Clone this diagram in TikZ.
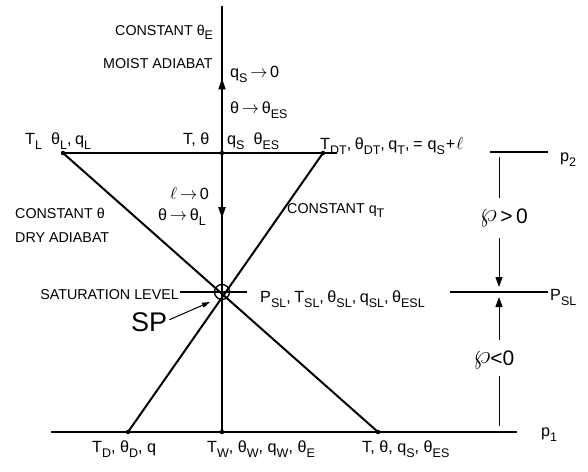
\documentclass[tikz,border=0pt]{standalone}
\usepackage{fontspec}
\setmainfont{Liberation Sans}
\usetikzlibrary{arrows.meta,decorations.markings}
\newcommand\lo[1]{\raisebox{-0.6ex}{\fontsize{12.5}{12}\selectfont #1}}
\newcommand\myarr{\,$\rightarrow$\,}
\newcommand\cm{,\hspace{3.5pt}}
\newcommand\myp{\raisebox{0.15ex}{\scalebox{1.3}{$\wp$}}}
\tikzset{
  lbl/.style={anchor=base west, inner sep=0pt, font=\fontsize{14.3}{16}\selectfont},
  sym/.style={anchor=base west, inner sep=0pt, font=\fontsize{16.2}{18}\selectfont},
  big/.style={inner sep=0pt, font=\fontsize{21}{23}\selectfont},
  heavy/.style={line width=2pt},
  hline/.style={line width=1.4pt},
  thinl/.style={line width=0.9pt},
  dot/.style={circle, fill=black, inner sep=0pt, minimum size=4.5pt},
  tip/.style={-{Triangle[length=10pt,width=7pt]}}
}
\begin{document}
\begin{tikzpicture}[x=1pt,y=-1pt]
\useasboundingbox (0,0) rectangle (588,471);
\fill[white] (0,0) rectangle (588,471);

% key points
\coordinate (vtop) at (222,6);
\node[dot] (TL) at (63,153) {};
\node[dot] (TM) at (222,153) {};
\node[dot] (TDT) at (323,153) {};
\coordinate (topend) at (337,153);
\coordinate (SP) at (222,292);
\node[dot] (TD) at (128,432) {};
\node[dot] (TW) at (222,432) {};
\node[dot] (TTh) at (378,432) {};
\coordinate (botL) at (51,432);
\coordinate (botR) at (517,432);

% main lines
\draw[hline] (TL.center) -- (topend);
\draw[hline] (botL) -- (botR);
\draw[heavy] (TL.center) -- (TTh.center);
\draw[heavy] (TDT.center) -- (TD.center);
\draw[heavy, postaction={decorate}, decoration={markings,
   mark=at position 0.17 with {\arrowreversed{Triangle[length=11pt,width=7pt]}},
   mark=at position 0.498 with {\arrow{Triangle[length=11pt,width=7pt]}}}]
   (vtop) -- (TW.center);

% saturation point
\node[circle, draw, line width=1.3pt, minimum size=15pt, inner sep=0pt] (spc) at (SP) {};
\coordinate (satL) at (180,292);
\coordinate (satR) at (247,292);
\draw[hline] (satL) -- (satR);
\node[anchor=base west, inner sep=0pt, font=\fontsize{27}{29}\selectfont] (splab) at (131,331) {SP};
\coordinate (sptip) at (210,302);
\draw[line width=1pt, -{Triangle[length=8pt,width=5pt]}] ([xshift=2pt,yshift=2pt]splab.east) -- (sptip);

% right-hand annotation
\coordinate (r2a) at (490,152);
\coordinate (r2b) at (548,152);
\draw[hline] (r2a) -- (r2b);
\coordinate (rsla) at (450,292);
\coordinate (rslb) at (548,292);
\draw[hline] (rsla) -- (rslb);
\node[big] (pgt) at (504,218) {\myp\,>\,0};
\node[big] (plt) at (494,360) {\myp<0};
\coordinate (v1) at (499,157);
\coordinate (v2) at (499,198);
\coordinate (v3) at (499,238);
\coordinate (v4) at (499,287);
\coordinate (v5) at (499,340);
\coordinate (v6) at (499,297);
\coordinate (v7) at (499,376);
\coordinate (v8) at (499,426);
\draw[thinl] (v1) -- (v2);
\draw[thinl, tip] (v3) -- (v4);
\draw[thinl, tip] (v5) -- (v6);
\draw[thinl] (v7) -- (v8);

% labels
\node[lbl] (ce) at (115,35) {CONSTANT θ\lo{E}};
\node[lbl] (ma) at (103,68) {MOIST ADIABAT};
\node[sym] (qs0) at (230,77) {q\lo{S}\myarr 0};
\node[sym] (tes) at (230,113) {θ\myarr θ\lo{ES}};
\node[sym] (tl) at (25,144) {T\lo{L}\hspace{9pt}θ\lo{L}\cm q\lo{L}};
\node[sym] (tth) at (183,144) {T, θ};
\node[sym] (qsth) at (227,144) {q\lo{S}\hspace{9pt}θ\lo{ES}};
\node[sym] (tdt) at (320,149) {T\lo{DT}\cm θ\lo{DT}\cm q\lo{T}\cm =\hspace{5pt}q\lo{S}\hspace{1pt}+\hspace{1pt}{\fontsize{19}{20}\selectfont$\ell$}};
\node[sym] (p2) at (560,161) {p\lo{2}};
\node[sym] (l0) at (170,199) {{\fontsize{18}{20}\selectfont$\ell$}\myarr 0};
\node[sym] (ttl) at (158,220) {θ\myarr θ\lo{L}};
\node[lbl] (cth) at (15,218) {CONSTANT θ};
\node[lbl] (dry) at (15,242) {DRY ADIABAT};
\node[lbl] (cqt) at (287,213) {CONSTANT q\lo{T}};
\node[lbl, anchor=base east] (sat) at (179,299) {SATURATION LEVEL};
\node[sym] (psl) at (260,302) {P\lo{SL}\cm T\lo{SL}\cm θ\lo{SL}\cm q\lo{SL}\cm θ\lo{ESL}};
\node[sym] (psr) at (550,300) {P\lo{SL}};
\node[sym] (bd) at (92,452) {T\lo{D}, θ\lo{D}, q};
\node[sym] (bw) at (207,452) {T\lo{W}, θ\lo{W}, q\lo{W}, θ\lo{E}};
\node[sym] (bt) at (362,452) {T, θ, q\lo{S}, θ\lo{ES}};
\node[sym] (p1) at (541,436) {p\lo{1}};
\end{tikzpicture}
\end{document}
